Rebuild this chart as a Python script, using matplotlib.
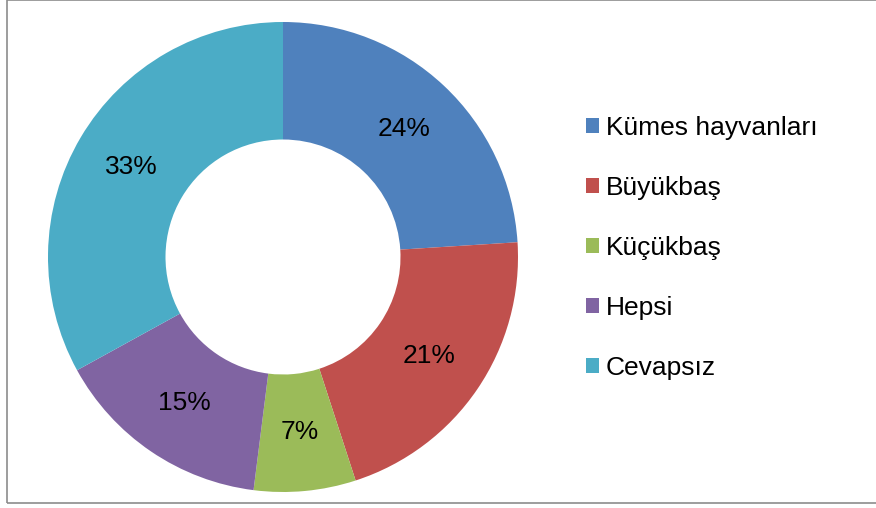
import matplotlib
matplotlib.use("Agg")
import matplotlib.pyplot as plt
from matplotlib.patches import Rectangle, Patch

plt.rcParams['font.family'] = ['Liberation Sans', 'DejaVu Sans']

categories = ['Kümes hayvanları', 'Büyükbaş', 'Küçükbaş', 'Hepsi', 'Cevapsız']
shares = [24, 21, 7, 15, 33]
colors = ['#4F81BD', '#C0504D', '#9BBB59', '#8064A2', '#4BACC6']

W, H = 876, 508
fig = plt.figure(figsize=(W / 100, H / 100), dpi=100)

# chart frame
fig.patches.append(Rectangle((7 / W, 1 - 503 / H), 1.0, 503 / H, transform=fig.transFigure,
                             fill=False, edgecolor='#8c8c8c', linewidth=1.2))

cx, cy, r = 283, 257, 235
ax = fig.add_axes([(cx - r) / W, (H - cy - r) / H, 2 * r / W, 2 * r / H])
wedges, texts, autotexts = ax.pie(shares, colors=colors, startangle=90, counterclock=False,
                                  radius=1, autopct='%1.0f%%', pctdistance=0.75,
                                  wedgeprops=dict(width=0.5, linewidth=0),
                                  textprops=dict(fontsize=19, color='black'))
ax.set_xlim(-1, 1)
ax.set_ylim(-1, 1)
ax.set_aspect('equal')
ax.axis('off')

handles = [Patch(facecolor=c, edgecolor='none') for c in colors]
fig.legend(handles, categories, loc='center left', bbox_to_anchor=(586 / W, 1 - 248 / H),
           frameon=False, fontsize=19, handlelength=0.5, handleheight=0.5,
           handletextpad=0.25, labelspacing=1.37, borderpad=0, borderaxespad=0)

fig.savefig('out.png', dpi=100)
